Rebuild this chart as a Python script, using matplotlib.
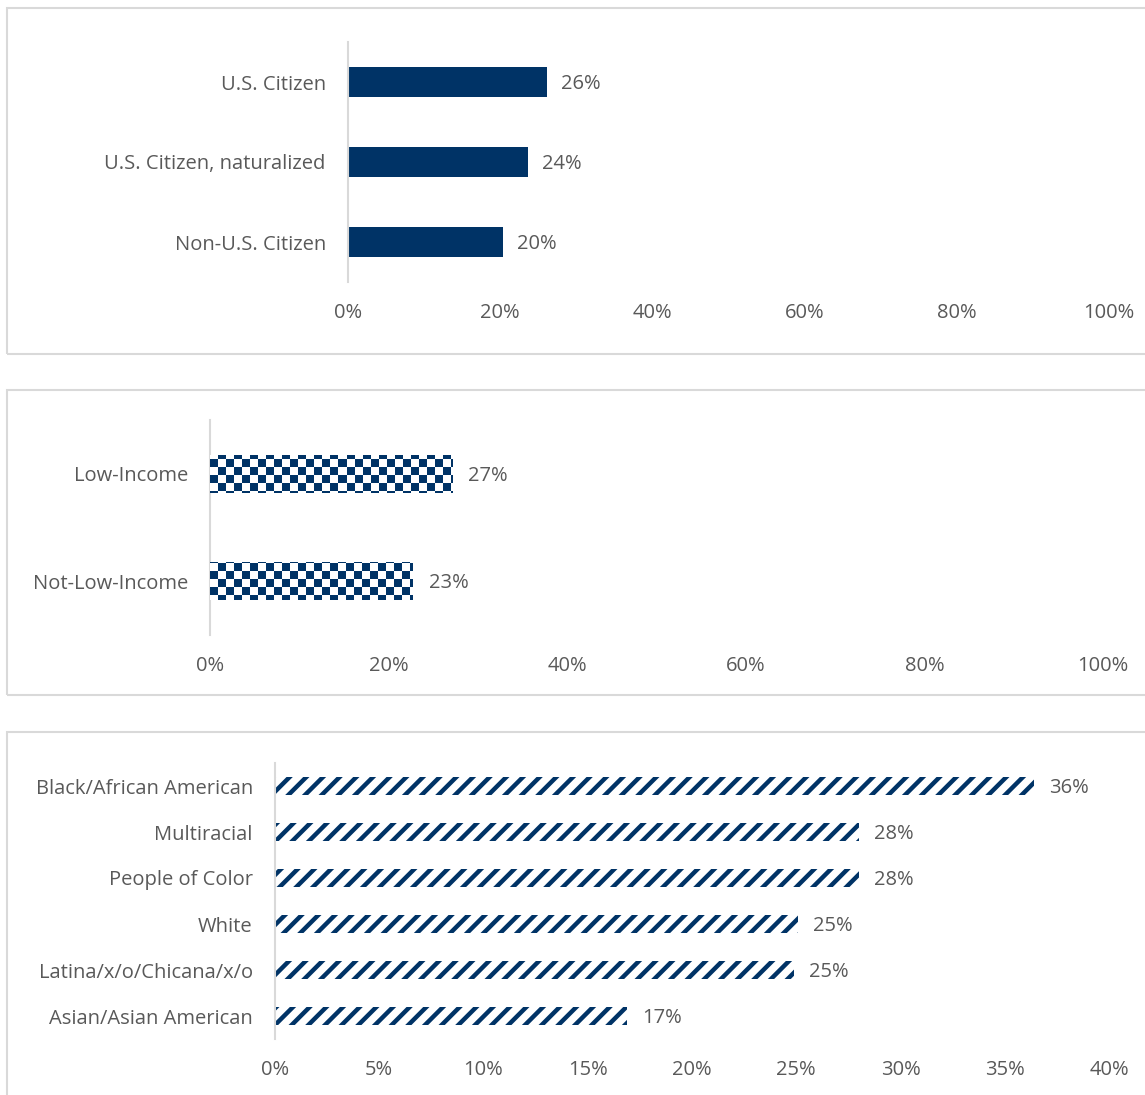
import numpy as np
import matplotlib.pyplot as plt
from matplotlib.patches import Rectangle
from matplotlib.colors import ListedColormap

plt.rcParams['font.family'] = ['Open Sans', 'DejaVu Sans']
plt.rcParams['hatch.linewidth'] = 3.2

# data
citizen_labels = ["U.S. Citizen", "U.S. Citizen, naturalized", "Non-U.S. Citizen"]
citizen_vals = [26.1, 23.6, 20.4]

income_labels = ["Low-Income", "Not-Low-Income"]
income_vals = [27.1, 22.7]

race_labels = ["Black/African American", "Multiracial", "People of Color", "White",
               "Latina/x/o/Chicana/x/o", "Asian/Asian American"]
race_vals = [36.4, 28.0, 28.0, 25.1, 24.9, 16.9]

NAVY = "#003366"
GRAY = "#595959"
LINE = "#d9d9d9"
FS = 14.5
W, H = 1145, 1095

fig = plt.figure(figsize=(W / 100, H / 100), dpi=100)


def px_axes(x0, x1, y0, y1):
    # pixel box (top-left origin) -> figure axes
    return fig.add_axes([x0 / W, 1 - y1 / H, (x1 - x0) / W, (y1 - y0) / H])


def box(y0, y1):
    fig.patches.append(Rectangle((7 / W, 1 - y1 / H), 1.2, (y1 - y0) / H,
                                 transform=fig.transFigure, fill=False,
                                 edgecolor=LINE, linewidth=1.5))


def style(ax, xmax, step, tickpad, n):
    ax.set_xlim(0, xmax)
    ax.set_ylim(n - 0.5, -0.5)
    ticks = np.arange(0, xmax + 0.01, step)
    ax.set_xticks(ticks)
    ax.set_xticklabels([f"{int(t)}%" for t in ticks])
    for s in ["top", "right", "bottom"]:
        ax.spines[s].set_visible(False)
    ax.spines["left"].set_color(LINE)
    ax.spines["left"].set_linewidth(1.5)
    ax.tick_params(length=0, labelsize=FS, labelcolor=GRAY)
    ax.tick_params(axis="x", pad=tickpad)
    ax.tick_params(axis="y", pad=16)
    ax.patch.set_alpha(0)


def value_labels(ax, vals, dx):
    for i, v in enumerate(vals):
        ax.annotate(f"{round(v):.0f}%", (v, i), xytext=(dx, -2), textcoords="offset pixels",
                    va="center", ha="left", fontsize=FS, color=GRAY)


# panel 1: citizenship
box(8, 354)
ax1 = px_axes(348, 1109, 42, 282)
ax1.barh(range(3), citizen_vals, height=0.375, color=NAVY)
ax1.set_yticks(range(3))
ax1.set_yticklabels(citizen_labels)
style(ax1, 100, 20, 15, 3)
value_labels(ax1, citizen_vals, 14)

# panel 2: income (checker fill)
box(390, 695)
ax2 = px_axes(210, 1103, 420, 635)
bars2 = ax2.barh(range(2), income_vals, height=0.35, color="white", linewidth=0)
ax2.set_yticks(range(2))
ax2.set_yticklabels(income_labels)
style(ax2, 100, 20, 15, 2)
cell = 8
nx, ny = 893 // cell + 1, 215 // cell + 1
checker = (np.add.outer(np.arange(ny), np.arange(nx)) % 2).astype(float)
for b in bars2:
    im = ax2.imshow(checker, cmap=ListedColormap(["white", NAVY]),
                    extent=[0, nx * cell / 893 * 100, 1.5, 1.5 - ny * cell / 215 * 2],
                    aspect="auto", interpolation="nearest", zorder=3)
    im.set_clip_path(b)
ax2.set_ylim(1.5, -0.5)
ax2.set_xlim(0, 100)
value_labels(ax2, income_vals, 16)

# panel 3: race/ethnicity (diagonal stripes)
box(732, 1200)
ax3 = px_axes(275, 1109, 763, 1039)
ax3.barh(range(6), race_vals, height=0.37, color="white", edgecolor=NAVY,
         hatch="//", linewidth=0)
ax3.set_yticks(range(6))
ax3.set_yticklabels(race_labels)
style(ax3, 40, 5, 15, 6)
value_labels(ax3, race_vals, 15)

fig.savefig("out.png", dpi=100)
